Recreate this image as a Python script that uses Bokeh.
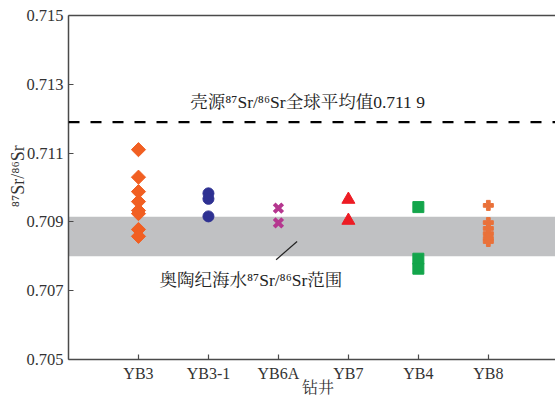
import math
from bokeh.plotting import figure
from bokeh.models import (BoxAnnotation, Span, LinearAxis, FixedTicker, Range1d)
from bokeh.embed import file_html
from bokeh.resources import INLINE

# ---- data ----
wells = ["YB3", "YB3-1", "YB6A", "YB7", "YB4", "YB8"]
yb3 = [0.71110, 0.71030, 0.70988, 0.70959, 0.70933, 0.70924, 0.70878, 0.70858]
yb3_1 = [0.70983, 0.70967, 0.70916]
yb6a = [0.70940, 0.70897]
yb7 = [0.70965, 0.70904]
yb4 = [0.70943, 0.70793, 0.70764]
yb8 = [0.70948, 0.70898, 0.70881, 0.70866, 0.70852, 0.70843]
crust_mean = 0.7119
ordovician_band = [0.7080, 0.70915]
y_ticks = [0.705, 0.707, 0.709, 0.711, 0.713, 0.715]

SERIF = "'Liberation Serif', 'Noto Serif CJK SC', 'Noto Sans CJK SC'"
AX = "#4a4a4a"
TXT = "#333333"
NB = "\u00a0"

p = figure(width=555, height=399, output_backend="svg", toolbar_location=None,
           x_range=Range1d(0, 6.96), y_range=Range1d(0.705, 0.715),
           x_axis_location=None, y_axis_location=None,
           min_border_left=68, min_border_right=0, min_border_top=15,
           min_border_bottom=40)
p.outline_line_color = None
p.xgrid.visible = False
p.ygrid.visible = False
p.background_fill_color = "white"

# gray band & dashed line
p.add_layout(BoxAnnotation(bottom=ordovician_band[0], top=ordovician_band[1],
                           fill_color="#c0c1c3", fill_alpha=1.0, line_color=None,
                           level="underlay"))
p.add_layout(Span(location=crust_mean, dimension="width", line_color="black",
                  line_width=2.2, line_dash="11 11"))

def xs(i, vals):
    return [i + 1] * len(vals)

p.scatter(xs(0, yb3), yb3, marker="square", angle=math.pi / 4, size=10,
          fill_color="#f15f22", line_color="#f15f22")
p.scatter(xs(1, yb3_1), yb3_1, marker="circle", size=11,
          fill_color="#2e3192", line_color="#2e3192")
p.scatter(xs(2, yb6a), yb6a, marker="x", size=12, line_width=4,
          line_color="#b5378f")
p.scatter(xs(3, yb7), yb7, marker="triangle", size=13,
          fill_color="#ed1c24", line_color="#ed1c24")
p.scatter(xs(4, yb4), yb4, marker="square", size=11,
          fill_color="#13a54b", line_color="#13a54b")
p.scatter(xs(5, yb8), yb8, marker="plus", size=10,
          fill_color="#e9713a", line_color="#e9713a")

# annotations
p.text(x=[1.74], y=[0.71250], text=["壳源⁸⁷Sr/⁸⁶Sr全球平均值0.711 9"],
       text_font={"value": SERIF}, text_font_size="17.5px", text_color="#222222",
       text_baseline="middle", text_align="left")
p.text(x=[1.30], y=[0.70730], text=["奥陶纪海水⁸⁷Sr/⁸⁶Sr范围"],
       text_font={"value": SERIF}, text_font_size="17.5px", text_color="#222222",
       text_baseline="middle", text_align="left")
p.segment(x0=[2.967], y0=[0.70790], x1=[3.267], y1=[0.70843],
          line_color="#222222", line_width=1.2)

# axes
left = LinearAxis(ticker=FixedTicker(ticks=y_ticks))
left.major_label_overrides = {t: f"{t:.3f}" for t in y_ticks}
left.major_tick_in = 5
left.major_tick_out = 0
left.minor_tick_in = 0
left.minor_tick_out = 0
left.axis_line_color = AX
left.axis_line_width = 1.5
left.major_tick_line_color = AX
left.major_tick_line_width = 1.2
left.major_label_text_font = SERIF
left.major_label_text_font_size = "16.5px"
left.major_label_text_color = TXT
left.major_label_standoff = 5
left.axis_label = NB * 5 + "⁸⁷Sr/⁸⁶Sr"
left.axis_label_text_font = SERIF
left.axis_label_text_font_size = "18px"
left.axis_label_text_font_style = "normal"
left.axis_label_text_color = TXT
left.axis_label_standoff = -5
p.add_layout(left, "left")

bottom = LinearAxis(ticker=FixedTicker(ticks=list(range(1, len(wells) + 1))))
bottom.major_label_overrides = {i + 1: w for i, w in enumerate(wells)}
bottom.major_tick_in = 5
bottom.major_tick_out = 0
bottom.minor_tick_in = 0
bottom.minor_tick_out = 0
bottom.axis_line_color = AX
bottom.axis_line_width = 1.5
bottom.major_tick_line_color = AX
bottom.major_tick_line_width = 1.2
bottom.major_label_text_font = SERIF
bottom.major_label_text_font_size = "16px"
bottom.major_label_text_color = TXT
bottom.major_label_standoff = 5
bottom.axis_label = NB * 3 + "钻井"
bottom.axis_label_text_font = SERIF
bottom.axis_label_text_font_size = "16px"
bottom.axis_label_text_font_style = "normal"
bottom.axis_label_text_color = TXT
bottom.axis_label_standoff = -6
p.add_layout(bottom, "below")

top = LinearAxis(ticker=FixedTicker(ticks=[]))
top.axis_line_color = AX
top.axis_line_width = 1.5
top.major_tick_in = 0
top.major_tick_out = 0
top.minor_tick_in = 0
top.minor_tick_out = 0
top.major_label_text_font_size = "0px"
p.add_layout(top, "above")

open("out.html", "w").write(file_html(p, INLINE))
